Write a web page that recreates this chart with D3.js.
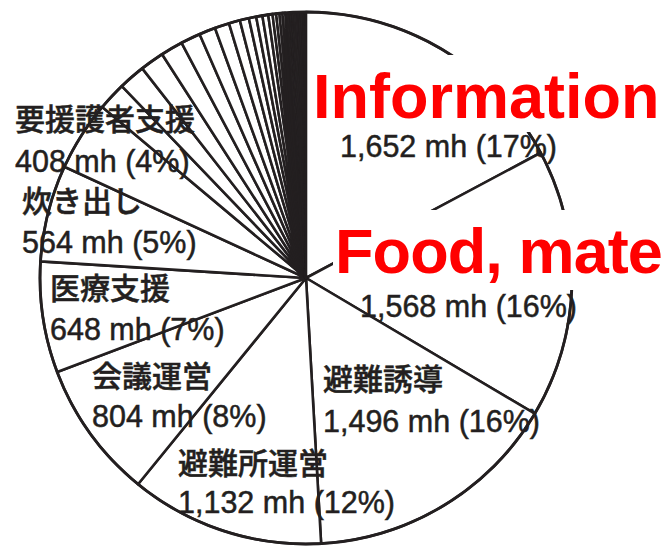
<!DOCTYPE html>
<html>
<head>
<meta charset="utf-8">
<script src="https://cdn.jsdelivr.net/npm/d3@7"></script>
<style>
  html, body { margin: 0; padding: 0; background: #fff; }
  svg { display: block; }
</style>
</head>
<body>
<svg id="chart" width="663" height="548"></svg>
<script>
// Man-hours by activity (labelled slices, clockwise from 12 o'clock)
const categories = ["Information", "Food, mate", "避難誘導", "避難所運営", "会議運営", "医療支援", "炊き出し", "要援護者支援"];
const manHours = [1652, 1568, 1496, 1132, 804, 648, 564, 408];
const percentLabels = ["17%", "16%", "16%", "12%", "8%", "7%", "5%", "4%"];
// Remaining minor activities (unlabelled)
const minorHours = [165, 155, 140, 130, 115, 95, 85, 65, 53, 43, 36, 34, 25, 21, 19, 17, 16];
// Very small activities, drawn as a solid dark wedge
const tinyHours = [14, 13, 12, 11, 10, 10, 9, 8, 8, 7, 6, 5, 4, 3];

// Layout
const W = 663, H = 548;
const cx = 306, cy = 278, R = 266;
const ink = "#231f20";
// label anchor: left x, name baseline, value baseline (page coordinates)
const labelLayout = [
  { x: 313, name: 118, value: 157, vx: 340 },
  { x: 335, name: 273, value: 317, vx: 360 },
  { x: 323, name: 390, value: 432, vx: 323 },
  { x: 178, name: 474, value: 513, vx: 178 },
  { x: 92,  name: 387, value: 427, vx: 92 },
  { x: 50,  name: 299, value: 340, vx: 50 },
  { x: 22,  name: 212, value: 253, vx: 22 },
  { x: 15,  name: 130, value: 172, vx: 15 }
];
// white backing panels behind the highlighted English names
const panels = [
  { x: 310, y: 55, w: 353, h: 77 },
  { x: 333, y: 210, w: 330, h: 80 }
];

const slices = [
  ...manHours.map((v, i) => ({ value: v, kind: "main", idx: i })),
  ...minorHours.map(v => ({ value: v, kind: "minor" })),
  ...tinyHours.map(v => ({ value: v, kind: "tiny" }))
];

const svg = d3.select("#chart");
const g = svg.append("g").attr("transform", `translate(${cx},${cy})`);

const pie = d3.pie().sort(null).value(d => d.value);
const arc = d3.arc().innerRadius(0).outerRadius(R);

g.selectAll("path.slice")
  .data(pie(slices))
  .join("path")
  .attr("class", "slice")
  .attr("d", arc)
  .attr("fill", d => d.data.kind === "tiny" ? ink : "#fff")
  .attr("stroke", ink)
  .attr("stroke-width", d => d.data.kind === "tiny" ? 1 : 2.6)
  .attr("stroke-linejoin", "round");

// outer rim
g.append("circle")
  .attr("r", R)
  .attr("fill", "none")
  .attr("stroke", ink)
  .attr("stroke-width", 2.8);

const fmt = d3.format(",");
const labels = svg.append("g")
  .attr("font-family", "'Liberation Sans', Arial, 'Noto Sans CJK JP', sans-serif")
  .attr("fill", ink)
  .attr("stroke", ink)
  .attr("stroke-width", 0.5);

categories.forEach((name, i) => {
  const L = labelLayout[i];
  if (i < panels.length) {
    const p = panels[i];
    svg.append("rect")
      .attr("x", p.x).attr("y", p.y).attr("width", p.w).attr("height", p.h)
      .attr("fill", "#fff");
    svg.append("text")
      .attr("x", L.x).attr("y", L.name)
      .attr("font-family", "'Liberation Sans', Arial, sans-serif")
      .attr("font-weight", "bold")
      .attr("font-size", 63)
      .attr("letter-spacing", i === 1 ? -0.9 : 0)
      .attr("fill", "#ff0000")
      .text(name);
  } else {
    labels.append("text")
      .attr("x", L.x).attr("y", L.name)
      .attr("font-family", "'Noto Sans CJK JP', sans-serif")
      .attr("font-size", 30)
      .attr("font-weight", 500)
      .text(name);
  }
  labels.append("text")
    .attr("x", L.vx)
    .attr("y", L.value)
    .attr("font-size", 30.5)
    .text(`${fmt(manHours[i])} mh (${percentLabels[i]})`);
});
</script>
</body>
</html>
